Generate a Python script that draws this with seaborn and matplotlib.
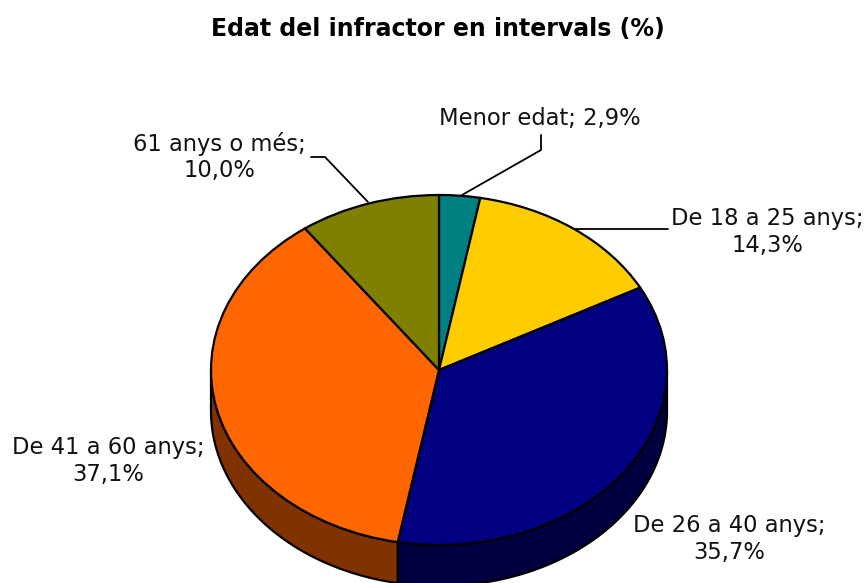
import matplotlib
matplotlib.use("Agg")
import matplotlib.pyplot as plt
import numpy as np
import seaborn as sns

categories = ["Menor edat", "De 18 a 25 anys", "De 26 a 40 anys", "De 41 a 60 anys", "61 anys o més"]
shares = [2.9, 14.3, 35.7, 37.1, 10.0]
share_labels = ["2,9%", "14,3%", "35,7%", "37,1%", "10,0%"]
top_colors = ["#008080", "#FFCC00", "#000080", "#FF6600", "#808000"]
side_colors = ["#004040", "#806600", "#000040", "#803300", "#404000"]

W, H = 868, 583
CX, CY, RX, RY = 439, 370, 228, 175
DEPTH = 41 / RY

sns.set_theme(style="white")
plt.rcParams["font.family"] = ["DejaVu Sans"]

fig = plt.figure(figsize=(W / 100, H / 100), dpi=100)
ax = fig.add_axes([0, 0, 1, 1])

# pie in unit-circle coords, axes stretched so the circle becomes the ellipse
ax.pie(shares, colors=top_colors, startangle=90, counterclock=False, radius=1,
       wedgeprops=dict(edgecolor="black", linewidth=1.6, zorder=3))

# side wall, only the part of each slice on the front half
edges = np.cumsum([0] + shares) / 100 * 2 * np.pi
for i in range(len(shares)):
    a0 = max(edges[i], np.pi / 2)
    a1 = min(edges[i + 1], 3 * np.pi / 2)
    if a1 <= a0:
        continue
    t = np.linspace(a0, a1, 200)
    x = np.sin(t)
    y = np.cos(t)
    px = np.r_[x, x[::-1]]
    py = np.r_[y, y[::-1] - DEPTH]
    ax.fill(px, py, facecolor=side_colors[i], edgecolor="black", linewidth=1.6, zorder=2)

ax.set_aspect("auto")
ax.set_xlim(-CX / RX, (W - CX) / RX)
ax.set_ylim((CY - H) / RY, CY / RY)
ax.axis("off")


def to_data(px, py):
    return (px - CX) / RX, (CY - py) / RY


# label centre positions in pixels, leader lines in pixels
label_pos = [(540, 119), (767, 232), (729, 539), (108, 461), (219, 157)]
leaders = [
    [(462, 195), (541, 150), (541, 135)],
    [(575, 229), (668, 229)],
    [],
    [],
    [(368, 202), (325, 157), (311, 157)],
]

for cat, lab, pos, lead in zip(categories, share_labels, label_pos, leaders):
    single_line = cat == "Menor edat"
    txt = f"{cat}; {lab}" if single_line else f"{cat};\n{lab}"
    ax.text(*to_data(*pos), txt, ha="center", va="center", fontsize=16.3,
            color="#111111", linespacing=1.22, zorder=5)
    if lead:
        pts = np.array([to_data(*p) for p in lead])
        ax.plot(pts[:, 0], pts[:, 1], color="black", linewidth=1.3, zorder=4)

ax.text(*to_data(438, 29), "Edat del infractor en intervals (%)", ha="center", va="center",
        fontsize=17, fontweight="bold", color="black")

fig.savefig("out.png", dpi=100, facecolor="white")
plt.close(fig)
